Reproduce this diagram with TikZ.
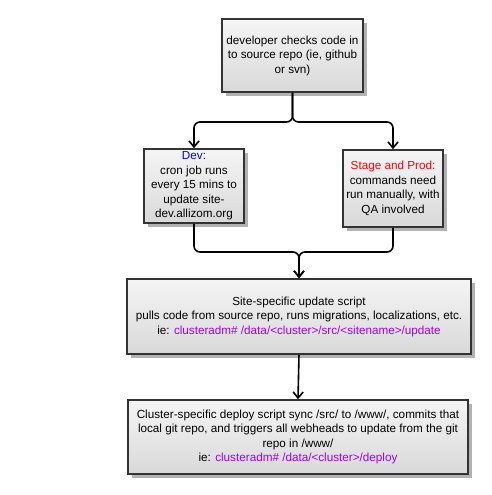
\documentclass[tikz,border=0pt]{standalone}
\usepackage{fontspec}
\setmainfont{Liberation Sans}
\usetikzlibrary{arrows.meta,shadows}

\definecolor{devblue}{RGB}{0,0,255}
\definecolor{prodred}{RGB}{255,0,0}
\definecolor{cmdpurple}{RGB}{153,0,255}
\definecolor{boxedge}{RGB}{51,51,51}

\tikzset{
  stepbox/.style={draw=boxedge, line width=1.6pt, top color=gray!8, bottom color=gray!30,
    drop shadow={shadow xshift=4pt, shadow yshift=-4pt, fill=gray!60, opacity=1},
    align=center, inner sep=1pt, font=\fontsize{11.7}{14.5}\selectfont},
  flow/.style={line width=1.6pt, rounded corners=6pt, -{Straight Barb[length=6pt,width=10pt]}},
}

\begin{document}
\begin{tikzpicture}[x=1pt,y=-1pt]
  \useasboundingbox (0,0) rectangle (491,495);

  % boxes
  \node[stepbox, minimum width=141pt, minimum height=73pt] (checkin) at (292.5,55.5)
    {developer checks code in\\ to source repo (ie, github\\ or svn)};
  \node[stepbox, minimum width=100pt, minimum height=74pt] (dev) at (194,186)
    {\textcolor{devblue}{Dev:}\\ cron job runs\\ every 15 mins to\\ update site-\\ dev.allizom.org};
  \node[stepbox, minimum width=100pt, minimum height=77pt] (prod) at (393,188.5)
    {\textcolor{prodred}{Stage and Prod:}\\ commands need\\ run manually, with\\ QA involved};
  \node[stepbox, minimum width=344pt, minimum height=75pt] (update) at (299,316.5)
    {Site-specific update script\\ pulls code from source repo, runs migrations, localizations, etc.\\
     ie: \textcolor{cmdpurple}{clusteradm\# /data/<cluster>/src/<sitename>/update}};
  \node[stepbox, minimum width=340pt, minimum height=74pt] (deploy) at (298,437)
    {Cluster-specific deploy script sync /src/ to /www/, commits that\\ local git repo, and triggers all webheads to update from the git\\
     repo in /www/\\ ie: \textcolor{cmdpurple}{clusteradm\# /data/<cluster>/deploy}};

  % connectors
  \coordinate (split) at (292,122);
  \coordinate (merge) at (299,252);
  \draw[flow] (checkin.south) -- (checkin.south |- split) -| (dev.north);
  \draw[flow] (checkin.south) -- (checkin.south |- split) -| (prod.north);
  \draw[flow] (dev.south) -- (dev.south |- merge) -| (update.north);
  \draw[flow] (prod.south) -- (prod.south |- merge) -| (update.north);
  \draw[flow] (update.south) -- (deploy.north);
\end{tikzpicture}
\end{document}
